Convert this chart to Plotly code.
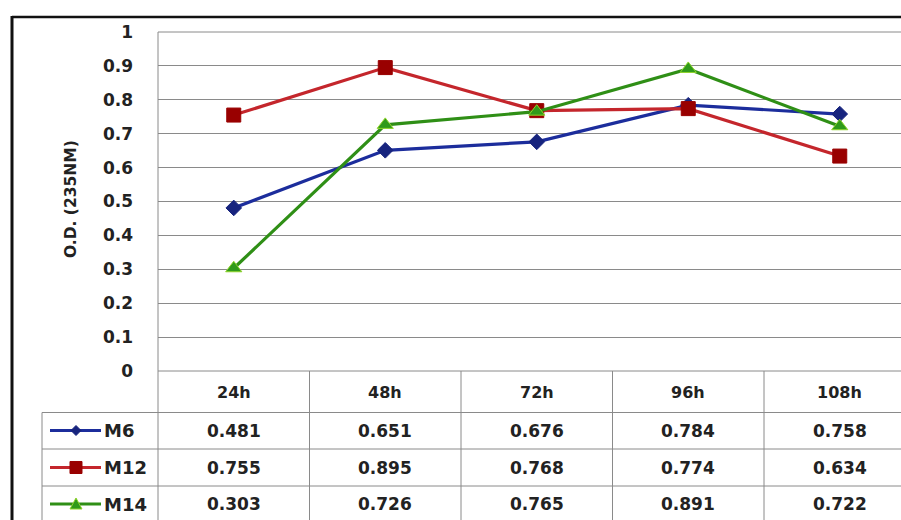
import plotly.graph_objects as go

# Sampling times and optical density readings
times = ["24h", "48h", "72h", "96h", "108h"]
m6 = [0.481, 0.651, 0.676, 0.784, 0.758]
m12 = [0.755, 0.895, 0.768, 0.774, 0.634]
m14 = [0.303, 0.726, 0.765, 0.891, 0.722]
series_names = ["M6", "M12", "M14"]
y_ticks = [0, 0.1, 0.2, 0.3, 0.4, 0.5, 0.6, 0.7, 0.8, 0.9, 1]

W, H = 901, 520
L, R, T, B = 158, 0, 32, 149          # plot area margins (px)
PW, PH = W - L - R, H - T - B
COL = 151.5                            # width of one time column (px)

def px(x):
    return (x - L) / PW

def py(y):
    return (H - B - y) / PH

styles = [
    dict(line="#1c2d9c", marker="#17247e", symbol="diamond", size=12, edge="#17247e"),
    dict(line="#c4262c", marker="#990000", symbol="square", size=14, edge="#990000"),
    dict(line="#2f8f16", marker="#2f9a1a", symbol="triangle-up", size=14, edge="#8fd42a"),
]
data = [m6, m12, m14]
xs = list(range(len(times)))

FONT = "DejaVu Sans"
TXT = "#222222"
GRID = "#8a8a8a"

fig = go.Figure()
for name, vals, st in zip(series_names, data, styles):
    fig.add_trace(go.Scatter(
        x=xs, y=vals, name=name, mode="lines+markers",
        line=dict(color=st["line"], width=3.2),
        marker=dict(symbol=st["symbol"], size=st["size"], color=st["marker"],
                    line=dict(color=st["edge"], width=1)),
        showlegend=False, cliponaxis=False,
    ))

shapes = []
ann = []

def hline(y, x0, x1, color=GRID, w=1):
    shapes.append(dict(type="line", xref="paper", yref="paper",
                       x0=px(x0), x1=px(x1), y0=py(y), y1=py(y),
                       line=dict(color=color, width=w)))

def vline(x, y0, y1, color=GRID, w=1):
    shapes.append(dict(type="line", xref="paper", yref="paper",
                       x0=px(x), x1=px(x), y0=py(y0), y1=py(y1),
                       line=dict(color=color, width=w)))

# Top and bottom edges of the value axis (1 and 0)
hline(T, L, W)
hline(H - B, L, W)

# Data table grid
vline(L, T, H)
vline(42, 412.5, H)
for k in range(len(times) - 1):
    xk = L + (k + 1) * COL
    vline(xk, H - B, H)
row_lines = [412.5, 449, 486]
for y in row_lines:
    hline(y, 42, W)

# Outer chart frame
shapes.append(dict(type="line", xref="paper", yref="paper",
                   x0=px(12), x1=px(W + 5), y0=py(17), y1=py(17),
                   line=dict(color="#111111", width=2.5)))
shapes.append(dict(type="line", xref="paper", yref="paper",
                   x0=px(12), x1=px(12), y0=py(16), y1=py(H + 5),
                   line=dict(color="#111111", width=3)))

# Column headers
for i, t in enumerate(times):
    ann.append(dict(x=i, y=py(392), xref="x", yref="paper", text=t,
                    showarrow=False, xanchor="center", yanchor="middle",
                    font=dict(family=FONT, size=16, color=TXT, weight="bold")))

# Table values and legend keys
row_centers = [430.5, 467.5, 504]
for r, (name, vals, st) in enumerate(zip(series_names, data, styles)):
    yc = row_centers[r]
    for i, v in enumerate(vals):
        ann.append(dict(x=i, y=py(yc), xref="x", yref="paper", text=f"{v:.3f}",
                        showarrow=False, xanchor="center", yanchor="middle",
                        font=dict(family=FONT, size=17, color=TXT, weight="bold")))
    ann.append(dict(x=px(102), y=py(yc), xref="paper", yref="paper", text=name,
                    showarrow=False, xanchor="left", yanchor="middle",
                    font=dict(family=FONT, size=18, color=TXT, weight="bold")))
    # legend key: short line with the series marker
    shapes.append(dict(type="line", xref="paper", yref="paper",
                       x0=px(50), x1=px(101), y0=py(yc), y1=py(yc),
                       line=dict(color=st["line"], width=3)))
    cx = 76
    if st["symbol"] == "diamond":
        pts = [(cx, yc - 5), (cx + 5, yc), (cx, yc + 5), (cx - 5, yc)]
    elif st["symbol"] == "square":
        pts = [(cx - 6, yc - 6), (cx + 6, yc - 6), (cx + 6, yc + 6), (cx - 6, yc + 6)]
    else:
        pts = [(cx, yc - 6), (cx + 6, yc + 5), (cx - 6, yc + 5)]
    path = "M " + " L ".join(f"{px(a):.5f},{py(b):.5f}" for a, b in pts) + " Z"
    shapes.append(dict(type="path", xref="paper", yref="paper", path=path,
                       fillcolor=st["marker"], line=dict(color=st["edge"], width=1)))

# Y-axis title
ann.append(dict(x=px(71), y=py(199), xref="paper", yref="paper",
                text="O.D. (235NM)", textangle=-90, showarrow=False,
                xanchor="center", yanchor="middle",
                font=dict(family=FONT, size=15.5, color=TXT, weight="bold")))

fig.update_layout(
    width=W, height=H,
    margin=dict(l=L, r=R, t=T, b=B, pad=0),
    paper_bgcolor="white", plot_bgcolor="white",
    shapes=shapes, annotations=ann,
    xaxis=dict(range=[-0.5, -0.5 + PW / COL], showgrid=False, zeroline=False,
               showticklabels=False, showline=False, fixedrange=True),
    yaxis=dict(range=[0, 1], tickvals=y_ticks,
               ticktext=[f"{v:g}" for v in y_ticks],
               showgrid=True, gridcolor=GRID, gridwidth=1,
               zeroline=False, showline=False, ticks="",
               ticklabelstandoff=24,
               tickfont=dict(family=FONT, size=17, color=TXT, weight="bold"),
               fixedrange=True),
)

fig.write_html("out.html")
